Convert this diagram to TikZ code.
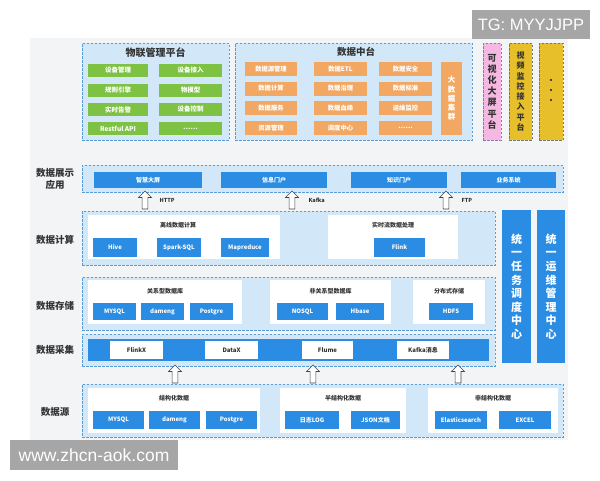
\documentclass[tikz,border=0pt]{standalone}
\usepackage{fontspec}
\setmainfont{Noto Sans CJK SC}
\newfontfamily\wmfont{Liberation Sans}
\usetikzlibrary{shapes.arrows}
\definecolor{bgc}{HTML}{F3F4F6}
\definecolor{wmc}{HTML}{A6A6A6}
\definecolor{pfill}{HTML}{D2E8F8}
\definecolor{pline}{HTML}{5B9BD5}
\definecolor{bbtn}{HTML}{2A8CE2}
\definecolor{gbtn}{HTML}{7DC242}
\definecolor{obtn}{HTML}{F2A863}
\definecolor{pinkc}{HTML}{F5B8E2}
\definecolor{pinkl}{HTML}{9A70B8}
\definecolor{yelc}{HTML}{E6BF2A}
\definecolor{yell}{HTML}{7B7B5B}
\definecolor{txt}{HTML}{333333}
\definecolor{arrc}{HTML}{444444}
\newcommand\bx[7]{\node[inner sep=0pt,outer sep=0pt,#6,minimum width={(#4-#2)*1pt},minimum height={(#5-#3)*1pt}] (#1) at ({(#2+#4)/2},{(#3+#5)/2}) {#7};}
\begin{document}
\begin{tikzpicture}[x=1pt,y=-1pt,
  panel/.style={draw=pline,dash pattern=on 2.5pt off 1.5pt,line width=0.8pt,fill=pfill},
  bb/.style={fill=bbtn,text=white,font=\bfseries\fontsize{6}{7}\selectfont},
  gb/.style={fill=gbtn,text=white,font=\bfseries\fontsize{6.5}{7}\selectfont},
  ob/.style={fill=obtn,text=white,font=\bfseries\fontsize{6.3}{7}\selectfont},
  wb/.style={fill=white},
  wt/.style={font=\bfseries\fontsize{6}{7}\selectfont,text=txt},
  wbt/.style={fill=white,text=txt,font=\bfseries\fontsize{6}{7}\selectfont},
  lbl/.style={font=\bfseries\fontsize{9.5}{11.5}\selectfont,text=txt,align=center},
  ttl/.style={font=\bfseries\fontsize{10}{11}\selectfont,text=txt},
  proto/.style={font=\bfseries\fontsize{5.5}{6}\selectfont,text=txt,anchor=west},
  vb/.style={dash pattern=on 2.5pt off 1.5pt,line width=0.8pt,text=txt,align=center},
  uarr/.style={single arrow,draw=arrc,fill=white,line width=0.6pt,shape border rotate=90,
    minimum height=18pt,minimum width=13pt,single arrow head extend=3.5pt,
    single arrow head indent=0pt,inner sep=2.6pt}
]
\useasboundingbox (0,0) rectangle (600,480);
\fill[white] (0,0) rectangle (600,480);
\bx{bg}{30}{38}{568}{440}{fill=bgc}{}
\bx{tg}{472}{10}{590}{39}{fill=wmc,text=white,font=\wmfont\fontsize{16.5}{18}\selectfont}{TG: MYYJJPP}
% ---------- top platforms
\bx{iot}{82}{43}{229}{140}{panel}{}
\node[ttl] (iott) at (155.5,53) {物联管理平台};
\bx{g11}{88}{64}{148}{77}{gb}{设备管理}
\bx{g21}{88}{83.5}{148}{96.5}{gb}{规则引擎}
\bx{g31}{88}{103}{148}{116}{gb}{实时告警}
\bx{g41}{88}{122}{148}{135}{gb}{Restful API}
\bx{g12}{159}{64}{222}{77}{gb}{设备接入}
\bx{g22}{159}{83.5}{222}{96.5}{gb}{物模型}
\bx{g32}{159}{103}{222}{116}{gb}{设备控制}
\bx{g42}{159}{122}{222}{135}{gb}{……}
\bx{dc}{235}{43}{472}{140}{panel}{}
\node[ttl,font=\bfseries\fontsize{9.5}{11}\selectfont] (dct) at (356,52) {数据中台};
\bx{o11}{245}{62}{297}{76}{ob}{数据源管理}
\bx{o21}{245}{81.5}{297}{95.5}{ob}{数据计算}
\bx{o31}{245}{101}{297}{115}{ob}{数据服务}
\bx{o41}{245}{121}{297}{135}{ob}{资源管理}
\bx{o12}{314}{62}{367}{76}{ob}{数据ETL}
\bx{o22}{314}{81.5}{367}{95.5}{ob}{数据治理}
\bx{o32}{314}{101}{367}{115}{ob}{数据血缘}
\bx{o42}{314}{121}{367}{135}{ob}{调度中心}
\bx{o13}{379}{62}{432}{76}{ob}{数据安全}
\bx{o23}{379}{81.5}{432}{95.5}{ob}{数据标准}
\bx{o33}{379}{101}{432}{115}{ob}{运维监控}
\bx{o43}{379}{121}{432}{135}{ob}{……}
\bx{big}{441}{62}{462}{135}{ob,font=\bfseries\fontsize{7.5}{9.3}\selectfont,align=center}{大\\数\\据\\集\\群}
\bx{vis}{483}{43}{501}{140}{vb,draw=pinkl,fill=pinkc,font=\bfseries\fontsize{9}{11.2}\selectfont}{可\\视\\化\\大\\屏\\平\\台}
\bx{vid}{509}{43}{532}{140}{vb,draw=yell,fill=yelc,font=\bfseries\fontsize{8}{10.3}\selectfont}{视\\频\\监\\控\\接\\入\\平\\台}
\bx{dots}{539}{43}{563}{140}{vb,draw=yell,fill=yelc,font=\bfseries\fontsize{8}{10}\selectfont}{·\\·\\·}
% ---------- display
\node[lbl] (l1) at (55,179) {数据展示\\应用};
\bx{disp}{82}{165}{563}{192}{panel}{}
\bx{d1}{94}{172}{202}{188}{bb}{智慧大屏}
\bx{d2}{221}{172}{327}{188}{bb}{信息门户}
\bx{d3}{351}{172}{447}{188}{bb}{知识门户}
\bx{d4}{461}{172}{556}{188}{bb}{业务系统}
% ---------- compute
\node[lbl] (l2) at (55,240) {数据计算};
\bx{comp}{82}{211}{495}{265}{panel}{}
\bx{cw1}{88}{215}{280}{259}{wb}{}
\node[wt] (cw1t) at (178,225) {离线数据计算};
\bx{c1}{93}{238}{137}{257}{bb}{Hive}
\bx{c2}{157}{238}{201}{257}{bb}{Spark-SQL}
\bx{c3}{221}{238}{269}{257}{bb}{Mapreduce}
\bx{cw2}{328}{215}{458}{259}{wb}{}
\node[wt] (cw2t) at (393,225) {实时流数据处理};
\bx{c4}{374}{238}{425}{257}{bb}{Flink}
% arrows compute -> display
\node[uarr] (a1) at (145,201.5) {};
\node[uarr] (a2) at (292,201.5) {};
\node[uarr] (a3) at (446,201.5) {};
\node[proto] (p1) at (156,200) {HTTP};
\node[proto] (p2) at (305,200) {Kafka};
\node[proto] (p3) at (458,200) {FTP};
% ---------- right bars
\bx{r1}{502}{210}{531}{363}{fill=bbtn,text=white,font=\bfseries\fontsize{11}{13.6}\selectfont,align=center}{统\\一\\任\\务\\调\\度\\中\\心}
\bx{r2}{537}{210}{565}{363}{fill=bbtn,text=white,font=\bfseries\fontsize{11}{13.6}\selectfont,align=center}{统\\一\\运\\维\\管\\理\\中\\心}
% ---------- storage
\node[lbl] (l3) at (55,306) {数据存储};
\bx{stor}{82}{277}{495}{330}{panel}{}
\bx{sw1}{88}{280}{242}{324}{wb}{}
\node[wt] (sw1t) at (165,291) {关系型数据库};
\bx{s1}{93}{303}{136}{320}{bb}{MYSQL}
\bx{s2}{141}{303}{184}{320}{bb}{dameng}
\bx{s3}{190}{303}{233}{320}{bb}{Postgre}
\bx{sw2}{270}{280}{391}{324}{wb}{}
\node[wt] (sw2t) at (330.5,291) {非关系型数据库};
\bx{s4}{277}{303}{328}{320}{bb}{NOSQL}
\bx{s5}{336}{303}{384}{320}{bb}{Hbase}
\bx{sw3}{413}{280}{485}{324}{wb}{}
\node[wt] (sw3t) at (449,291) {分布式存储};
\bx{s6}{429}{303}{473}{320}{bb}{HDFS}
% ---------- collect
\node[lbl] (l4) at (55,350) {数据采集};
\bx{coll}{82}{334}{495}{366}{panel}{}
\bx{cbar}{88}{339}{489}{361}{fill=bbtn}{}
\bx{k1}{110}{341}{163}{359}{wbt}{FlinkX}
\bx{k2}{205}{341}{258}{359}{wbt}{DataX}
\bx{k3}{302}{341}{353}{359}{wbt}{Flume}
\bx{k4}{397}{341}{449}{359}{wbt}{Kafka消息}
% arrows source -> collect
\node[uarr] (b1) at (175,375.5) {};
\node[uarr] (b2) at (313,375.5) {};
\node[uarr] (b3) at (458,375.5) {};
% ---------- source
\node[lbl] (l5) at (55,412) {数据源};
\bx{src}{82}{384}{563}{437}{panel}{}
\bx{ow1}{88}{388}{260}{433}{wb}{}
\node[wt] (ow1t) at (174,398) {结构化数据};
\bx{e1}{93}{411}{144}{429}{bb}{MYSQL}
\bx{e2}{149}{411}{200}{429}{bb}{dameng}
\bx{e3}{206}{411}{257}{429}{bb}{Postgre}
\bx{ow2}{280}{388}{406}{433}{wb}{}
\node[wt] (ow2t) at (343,398) {半结构化数据};
\bx{e4}{285}{411}{339}{429}{bb}{日志LOG}
\bx{e5}{351}{411}{400}{429}{bb}{JSON文档}
\bx{ow3}{428}{388}{558}{433}{wb}{}
\node[wt] (ow3t) at (493,398) {非结构化数据};
\bx{e6}{435}{411}{487}{429}{bb}{Elasticsearch}
\bx{e7}{499}{411}{551}{429}{bb}{EXCEL}
% ---------- watermark
\bx{wm}{10}{440}{178}{470}{fill=wmc,text=white,font=\wmfont\fontsize{17.5}{19}\selectfont}{www.zhcn-aok.com}
\end{tikzpicture}
\end{document}
